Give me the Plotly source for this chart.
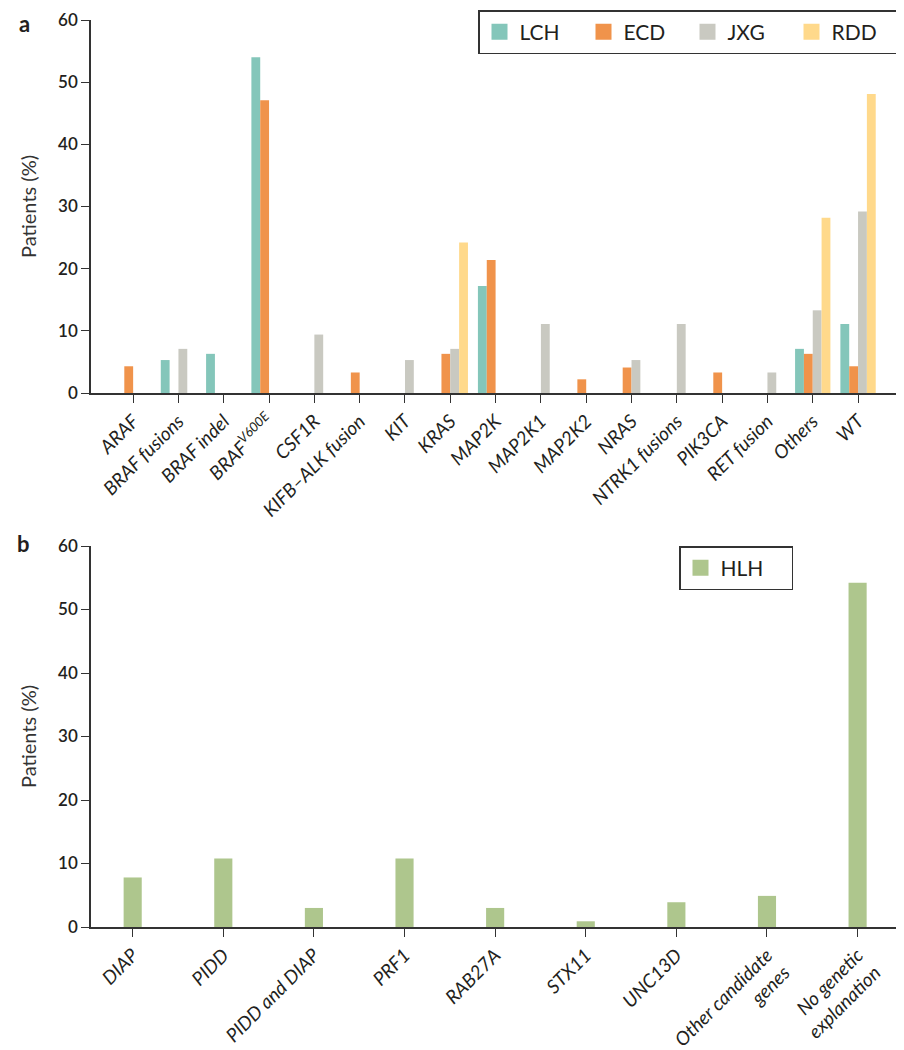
import plotly.graph_objects as go
from plotly.subplots import make_subplots

# ---------- Panel a data ----------
cats_a = ["ARAF", "BRAF fusions", "BRAF indel", "BRAF<sup>V600E</sup>", "CSF1R",
          "KIFB–ALK fusion", "KIT", "KRAS", "MAP2K", "MAP2K1", "MAP2K2", "NRAS",
          "NTRK1 fusions", "PIK3CA", "RET fusion", "Others", "WT"]
lch = [0, 5.3, 6.3, 54.0, 0, 0, 0, 0, 17.2, 0, 0, 0, 0, 0, 0, 7.1, 11.1]
ecd = [4.3, 0, 0, 47.1, 0, 3.3, 0, 6.3, 21.4, 0, 2.2, 4.1, 0, 3.3, 0, 6.3, 4.3]
jxg = [0, 7.1, 0, 0, 9.4, 0, 5.3, 7.1, 0, 11.1, 0, 5.3, 11.1, 0, 3.3, 13.3, 29.2]
rdd = [0, 0, 0, 0, 0, 0, 0, 24.2, 0, 0, 0, 0, 0, 0, 0, 28.2, 48.1]

# ---------- Panel b data ----------
cats_b = ["DIAP", "PIDD", "PIDD and DIAP", "PRF1", "RAB27A", "STX11", "UNC13D",
          "Other candidate<br>genes", "No genetic<br>explanation"]
hlh = [7.8, 10.8, 3.0, 10.8, 3.0, 0.9, 3.9, 4.9, 54.2]

y_ticks = [0, 10, 20, 30, 40, 50, 60]

colors = {"LCH": "#84C6BA", "ECD": "#F0934B", "JXG": "#C9C9C1", "RDD": "#FFD98B", "HLH": "#AEC68D"}

FONT = "Lato, 'Open Sans', sans-serif"
AX = "#333333"

fig = make_subplots(rows=2, cols=1)

for name, vals in [("LCH", lch), ("ECD", ecd), ("JXG", jxg), ("RDD", rdd)]:
    fig.add_trace(go.Bar(x=cats_a, y=vals, name=name, marker_color=colors[name],
                         marker_line_width=0, showlegend=False), row=1, col=1)
    # legend swatch (no data)
    fig.add_trace(go.Scatter(x=[None], y=[None], mode="markers", name=name,
                             marker=dict(symbol="square", size=17, color=colors[name]),
                             legend="legend", showlegend=True), row=1, col=1)

fig.add_trace(go.Bar(x=cats_b, y=hlh, name="HLH", marker_color=colors["HLH"],
                     marker_line_width=0, width=0.2, showlegend=False), row=2, col=1)
fig.add_trace(go.Scatter(x=[None], y=[None], mode="markers", name="HLH",
                         marker=dict(symbol="square", size=17, color=colors["HLH"]),
                         legend="legend2", showlegend=True), row=2, col=1)

# page has an 8px body margin: figure origin sits at screen (8, 8)
OFF = 8
W, H = 896, 1042
L, R, T, B = 83, 2, 12, 123
ph = H - T - B
pw = W - L - R
def py(p):  # screen y -> paper y
    return (H - B - (p - OFF)) / ph
def px(p):  # screen x -> paper x
    return (p - OFF - L) / pw

common_x = dict(type="category", showline=True, linecolor=AX, linewidth=1.5,
                ticks="outside", ticklen=8, tickcolor=AX, tickwidth=1.3,
                tickangle=-45, showgrid=False, zeroline=False, automargin=False,
                tickfont=dict(family=FONT, size=19, color="#231f20", style="italic"))
common_y = dict(range=[0, 60], tickvals=y_ticks, showline=True, linecolor=AX, linewidth=1.5,
                ticks="outside", ticklen=8, tickcolor=AX, tickwidth=1.3,
                showgrid=False, zeroline=False, automargin=False, ticklabeloverflow="allow",
                tickfont=dict(family=FONT, size=17, color="#231f20", weight=600),
                title=dict(text="Patients (%)", font=dict(family=FONT, size=20, color="#333"),
                           standoff=16))

fig.update_xaxes(common_x)
fig.update_yaxes(common_y)
fig.update_xaxes(range=[-0.93, 16.97], domain=[0, 1], row=1, col=1)
fig.update_xaxes(range=[-0.46, 8.49], domain=[0, 1], row=2, col=1)
fig.update_yaxes(domain=[py(393), 1.0], row=1, col=1)
fig.update_yaxes(domain=[0, py(546)], row=2, col=1)

fig.update_layout(
    width=W, height=H,
    margin=dict(l=L, r=R, t=T, b=B, autoexpand=False),
    paper_bgcolor="white", plot_bgcolor="white",
    barmode="group", bargap=0.22, bargroupgap=0,
    font=dict(family=FONT, color="#231f20"),
    legend=dict(orientation="h", x=px(897), xanchor="right", y=py(10), yanchor="top",
                bordercolor=AX, borderwidth=1.5, bgcolor="white",
                font=dict(family=FONT, size=21, color="#231f20"),
                entrywidth=59, entrywidthmode="pixels"),
    legend2=dict(orientation="h", x=px(679), xanchor="left", y=py(546), yanchor="top",
                 bordercolor=AX, borderwidth=1.5, bgcolor="white",
                 font=dict(family=FONT, size=21, color="#231f20"),
                 entrywidth=66, entrywidthmode="pixels"),
    annotations=[
        dict(text="<b>a</b>", xref="paper", yref="paper", x=px(24), y=py(8),
             xanchor="center", yanchor="top", showarrow=False,
             font=dict(family=FONT, size=22, color="#231f20")),
        dict(text="<b>b</b>", xref="paper", yref="paper", x=px(23), y=py(543),
             xanchor="center", yanchor="middle", showarrow=False,
             font=dict(family=FONT, size=22, color="#231f20")),
    ],
)

fig.write_html("out.html")
